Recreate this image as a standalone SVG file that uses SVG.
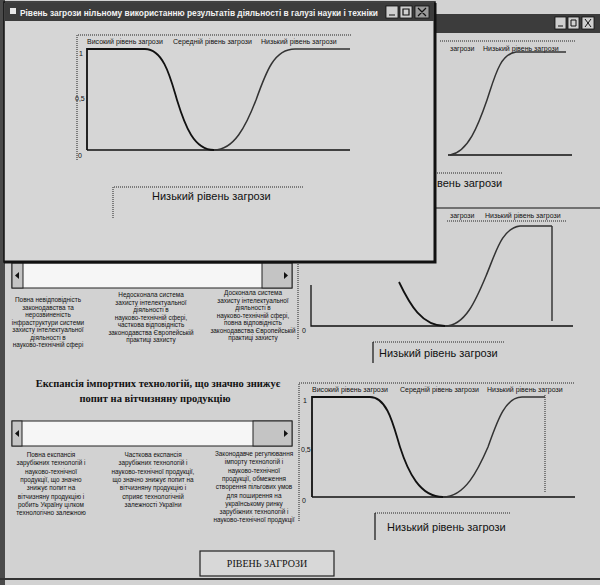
<svg xmlns="http://www.w3.org/2000/svg" width="600" height="585" viewBox="0 0 600 585">
<defs>
<style>
.bg{fill:#d2d2d2}
.t{font-family:"Liberation Sans",Arial,sans-serif;fill:#111}
.col{font-family:"Liberation Sans",Arial,sans-serif;font-size:6.4px;fill:#111;text-anchor:middle}
.leg{font-family:"Liberation Sans",Arial,sans-serif;font-size:7px;fill:#111}
.ax{font-family:"Liberation Sans",Arial,sans-serif;font-size:7px;fill:#111}
.big{font-family:"Liberation Sans",Arial,sans-serif;font-size:11px;fill:#111}
.dot{fill:none;stroke:#222;stroke-width:1;stroke-dasharray:1 1}
.axis{fill:none;stroke:#111;stroke-width:1.3}
.curve{fill:none;stroke:#111;stroke-width:1.8}
.curve2{fill:none;stroke:#333;stroke-width:1.5}
.solid{fill:none;stroke:#111;stroke-width:1.2}
.track{fill:#f6f6f6;stroke:#222;stroke-width:1}
.btn{fill:#c4c4c4;stroke:#222;stroke-width:1}
.title{fill:#3c3c3c}
.tbtn{fill:#cfcfcf;stroke:#111;stroke-width:0.8}
</style>
</defs>

<rect class="bg" x="0" y="0" width="600" height="585"/>
<rect x="0" y="0" width="5" height="585" fill="#4a4a4a"/>
<rect x="0" y="578" width="600" height="2" fill="#333"/>

<!-- main form, left side -->
<g id="scrollbar1">
<rect class="track" x="12" y="263" width="280" height="25"/>
<rect class="btn" x="12" y="263" width="11" height="25"/>
<rect class="btn" x="262" y="263" width="30" height="25"/>
<path d="M19,272 L15,275.5 L19,279 Z" fill="#111"/>
<path d="M284,272 L288,275.5 L284,279 Z" fill="#111"/>
</g>

<g id="scale1-labels">
<text class="col"><tspan x="48" y="302">Повна невідповідність</tspan><tspan x="48" y="309.5">законодавства та</tspan><tspan x="48" y="317">нерозвиненість</tspan><tspan x="48" y="324.5">інфраструктури системи</tspan><tspan x="48" y="332">захисту інтелектуальної</tspan><tspan x="48" y="339.5">діяльності в</tspan><tspan x="48" y="347">науково-технічній сфері</tspan></text>
<text class="col"><tspan x="151" y="297">Недосконала система</tspan><tspan x="151" y="304.5">захисту інтелектуальної</tspan><tspan x="151" y="312">діяльності в</tspan><tspan x="151" y="319.5">науково-технічній сфері,</tspan><tspan x="151" y="327">часткова відповідність</tspan><tspan x="151" y="334.5">законодавства Європейській</tspan><tspan x="151" y="342">практиці захисту</tspan></text>
<text class="col"><tspan x="253" y="295">Досконала система</tspan><tspan x="253" y="302.5">захисту інтелектуальної</tspan><tspan x="253" y="310">діяльності в</tspan><tspan x="253" y="317.5">науково-технічній сфері,</tspan><tspan x="253" y="325">повна відповідність</tspan><tspan x="253" y="332.5">законодавства Європейській</tspan><tspan x="253" y="340">практиці захисту</tspan></text>
</g>

<g id="heading2">
<text font-family="'Liberation Serif','Times New Roman',serif" font-weight="bold" font-size="10.5" fill="#111" text-anchor="middle"><tspan x="158" y="387">Експансія імпортних технологій, що значно знижує</tspan><tspan x="155" y="402">попит на вітчизняну продукцію</tspan></text>
</g>

<g id="scrollbar2">
<rect class="track" x="12" y="421" width="280" height="25"/>
<rect class="btn" x="12" y="421" width="10" height="25"/>
<rect class="btn" x="253" y="421" width="39" height="25"/>
<path d="M19,430 L15,433.5 L19,437 Z" fill="#111"/>
<path d="M284,430 L288,433.5 L284,437 Z" fill="#111"/>
</g>

<g id="scale2-labels">
<text class="col"><tspan x="51" y="457">Повна експансія</tspan><tspan x="51" y="465.3">зарубіжних технологій і</tspan><tspan x="51" y="473.6">науково-технічної</tspan><tspan x="51" y="481.9">продукції, що значно</tspan><tspan x="51" y="490.2">знижує попит на</tspan><tspan x="51" y="498.5">вітчизняну продукцію і</tspan><tspan x="51" y="506.8">робить Україну цілком</tspan><tspan x="51" y="515.1">технологічно залежною</tspan></text>
<text class="col"><tspan x="153" y="457">Часткова експансія</tspan><tspan x="153" y="465.3">зарубіжних технологій і</tspan><tspan x="153" y="473.6">науково-технічної продукції,</tspan><tspan x="153" y="481.9">що значно знижує попит на</tspan><tspan x="153" y="490.2">вітчизняну продукцію і</tspan><tspan x="153" y="498.5">сприяє технологічній</tspan><tspan x="153" y="506.8">залежності України</tspan></text>
<text class="col"><tspan x="254" y="456">Законодавче регулювання</tspan><tspan x="254" y="464.3">імпорту технологій і</tspan><tspan x="254" y="472.6">науково-технічної</tspan><tspan x="254" y="480.9">продукції, обмеження</tspan><tspan x="254" y="489.2">створення пільгових умов</tspan><tspan x="254" y="497.5">для поширення на</tspan><tspan x="254" y="505.8">українському ринку</tspan><tspan x="254" y="514.1">зарубіжних технологій і</tspan><tspan x="254" y="522.4">науково-технічної продукції</tspan></text>
</g>

<g id="button-level">
<rect x="200" y="551" width="134" height="25" fill="#d8d8d8" stroke="#222" stroke-width="1.2"/>
<text x="267" y="567" font-family="'Liberation Serif','Times New Roman',serif" font-size="10" fill="#111" text-anchor="middle">РІВЕНЬ ЗАГРОЗИ</text>
</g>

<!-- window 4: bottom right chart -->
<g id="chart-bottom">
<path class="dot" d="M299,521 V383 H575"/>
<text class="leg" x="312" y="392">Високий рівень загрози</text>
<text class="leg" x="400" y="392">Середній рівень загрози</text>
<text class="leg" x="487" y="392">Низький рівень загрози</text>
<text class="ax" x="303" y="403">1</text>
<text class="ax" x="301" y="452">0,5</text>
<text class="ax" x="302" y="503">0</text>
<path class="dot" d="M545,395 V493"/>
<path class="axis" d="M312,497 H575"/>
<path class="curve" d="M312,497 V397 H370 C388,397 394,428 400,447 C408,472 420,497 443,497"/>
<path class="curve2" d="M443,497 C465,497 478,470 488,447 C497,422 505,397 522,397 H545"/>
<path class="dot" d="M375,513 H510"/>
<path class="solid" d="M375,513 V540"/>
<text class="big" x="387" y="531">Низький рівень загрози</text>
</g>

<!-- window 3: middle right chart -->
<g id="chart-middle">
<path class="solid" d="M435,208 H600"/>
<text class="leg" x="450" y="218">загрози</text>
<text class="leg" x="485" y="218">Низький рівень загрози</text>
<path class="dot" d="M447,221 H567"/>
<path class="dot" d="M298,262 V340"/>
<text class="ax" x="302" y="333">0</text>
<path class="axis" d="M311,285 V326 H573"/>
<path class="solid" d="M552,226 V321"/>
<path class="curve" d="M399,282 C410,305 422,326 445,326"/>
<path class="curve2" d="M445,326 C465,326 476,300 486,276 C496,252 502,228 520,226 H552"/>
<path class="dot" d="M373,342 H505"/>
<path class="solid" d="M373,342 V363"/>
<text class="big" x="379" y="357">Низький рівень загрози</text>
</g>

<!-- window 2: top right -->
<g id="window-back">
<rect class="title" x="432" y="14" width="168" height="19"/>
<rect class="tbtn" x="555" y="17" width="11" height="12"/>
<rect class="tbtn" x="568" y="17" width="11" height="12"/>
<rect class="tbtn" x="582" y="17" width="12" height="12"/>
<path d="M558,26 H563 M571,20 H576 V26 H571 Z M585,19 L591,27 M591,19 L585,27" stroke="#111" stroke-width="1" fill="none"/>
<path class="dot" d="M440,41 H575"/>
<text class="leg" x="450" y="51">загрози</text>
<text class="leg" x="483" y="51">Низький рівень загрози</text>
<path class="axis" d="M448,155 H572"/>
<path class="curve2" d="M450,155 C468,152 478,126 487,100 C495,76 500,54 516,52 H566"/>
<path class="dot" d="M435,173 H502"/>
<text class="big" x="437" y="187">вень загрози</text>
</g>

<!-- front window -->
<g id="window-front">
<rect x="4" y="2" width="431" height="260" fill="#d6d6d6" stroke="#111" stroke-width="1.5"/>
<path d="M435,3 V262 H4" stroke="#111" stroke-width="3" fill="none"/>
<rect class="title" x="5" y="3" width="429" height="18"/>
<rect x="10" y="8" width="6" height="6" fill="#e8e8e8"/>
<text x="20" y="15.5" font-family="'Liberation Sans',Arial,sans-serif" font-weight="bold" font-size="8.3" fill="#f2f2f2" textLength="358" lengthAdjust="spacingAndGlyphs">Рівень загрози нільному використанню результатів діяльності в галузі науки і техніки</text>
<rect class="tbtn" x="386" y="6" width="12" height="12"/>
<rect class="tbtn" x="400" y="6" width="12" height="12"/>
<rect x="415" y="6" width="14" height="12" fill="#9a9a9a" stroke="#111" stroke-width="0.8"/>
<path d="M389,15 H395 M403,9 H409 V15 H403 Z M418,8 L426,16 M426,8 L418,16" stroke="#111" stroke-width="1.2" fill="none"/>
<path class="dot" d="M77,160 V35 H352"/>
<text class="leg" x="87" y="44">Високий рівень загрози</text>
<text class="leg" x="173" y="44">Середній рівень загрози</text>
<text class="leg" x="261" y="44">Низький рівень загрози</text>
<text class="ax" x="79" y="56">1</text>
<text class="ax" x="75" y="101">0,5</text>
<text class="ax" x="78" y="158">0</text>
<path class="axis" d="M87,150 H350"/>
<path class="curve" d="M87,150 V49 H145 C164,49 171,80 177,100 C185,126 194,150 214,150"/>
<path class="curve2" d="M214,150 C234,150 246,126 256,100 C266,72 274,49 295,49 H350"/>
<path class="dot" d="M113,218 V187 H303"/>
<text class="big" x="152" y="200">Низький рівень загрози</text>
</g>
</svg>
